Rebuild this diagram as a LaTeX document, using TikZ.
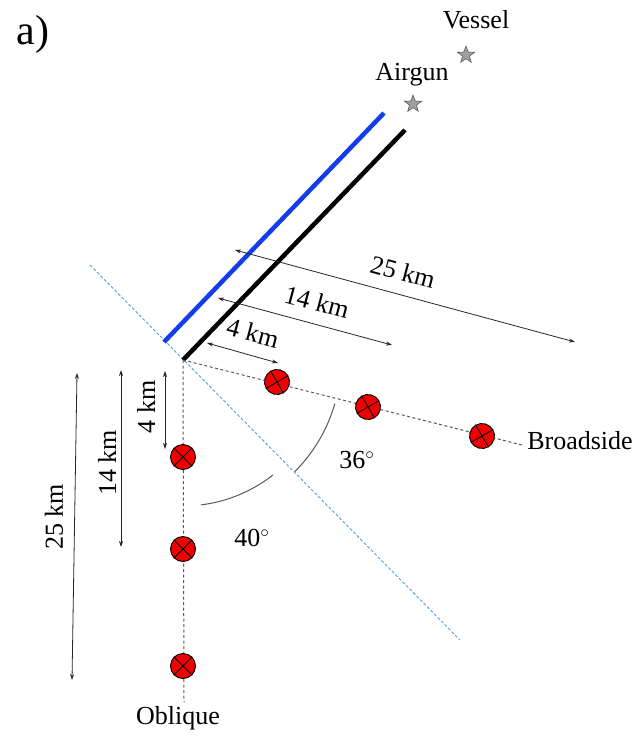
\documentclass[tikz,border=0pt]{standalone}
\usepackage{fontspec}
\setmainfont{Liberation Serif}
\usetikzlibrary{shapes.geometric,arrows.meta}
\definecolor{streamerblue}{RGB}{20,60,235}
\definecolor{lineblue}{RGB}{80,160,220}
\definecolor{recred}{RGB}{240,0,0}
\begin{document}
\begin{tikzpicture}[x=1pt,y=-1pt,
  lbl/.style={font=\fontsize{26}{30}\selectfont, inner sep=0pt},
  rcv/.style={circle, draw=black, line width=0.9pt, fill=recred, minimum size=25pt, inner sep=0pt},
  shot/.style={star, star points=5, star point ratio=2.4, minimum size=18pt, inner sep=0pt, draw=black!70, fill=gray!75, line width=0.5pt},
  dimarrow/.style={{Stealth[length=6pt,width=4pt]}-{Stealth[length=6pt,width=4pt]}, line width=0.8pt, black!85},
  profile/.style={dashed, dash pattern=on 3pt off 2.5pt, line width=1pt, black!65},
  anglearc/.style={line width=1pt, black!65}]
\useasboundingbox (0,0) rectangle (642,738);

% coordinates
\coordinate (O) at (183,360);
\coordinate (Btop) at (405,130);
\coordinate (Bl0) at (164,342);
\coordinate (Bl1) at (384,113);
\coordinate (D0) at (90,265);
\coordinate (D1) at (460,640);
\coordinate (Bend) at (522,445);
\coordinate (Oend) at (184,702);

% dashed bisector
\draw[lineblue, line width=0.9pt, dash pattern=on 3pt off 2pt] (D0) -- (D1);

% streamers
\draw[line width=4.5pt, black] (O) -- (Btop);
\draw[line width=4.5pt, streamerblue] (Bl0) -- (Bl1);

% profiles
\draw[profile] (O) -- (Bend);
\draw[profile] (O) -- (Oend);

% receivers broadside
\foreach \n/\p in {b1/{(277,382)}, b2/{(368,407)}, b3/{(482,436)}}{
  \node[rcv, rotate=-15] (\n) at \p {};
  \draw[line width=0.8pt] (\n.45) -- (\n.225) (\n.135) -- (\n.315);
}
% receivers oblique
\foreach \n/\p in {o1/{(183,457)}, o2/{(183,549)}, o3/{(183,666)}}{
  \node[rcv] (\n) at \p {};
  \draw[line width=0.8pt] (\n.45) -- (\n.225) (\n.135) -- (\n.315);
}

% angle arcs
\draw[anglearc] plot[domain=16:45, samples=40] ({183+158*cos(\x)},{360+158*sin(\x)});
\draw[anglearc] plot[domain=52:83, samples=40] ({183+146*cos(\x)},{360+146*sin(\x)});

% dimension arrows: broadside
\coordinate (h4a) at (207,343); \coordinate (h4b) at (278,363);
\coordinate (h14a) at (218,298); \coordinate (h14b) at (392,345);
\coordinate (h25a) at (235,250); \coordinate (h25b) at (575,342);
\draw[dimarrow] (h4a) -- (h4b);
\draw[dimarrow] (h14a) -- (h14b);
\draw[dimarrow] (h25a) -- (h25b);
\node[lbl, rotate=-15] (t4) at (253,333) {4 km};
\node[lbl, rotate=-15] (t14) at (317,302) {14 km};
\node[lbl, rotate=-15] (t25) at (403,272) {25 km};

% dimension arrows: oblique
\coordinate (v4a) at (165,371); \coordinate (v4b) at (165,449);
\coordinate (v14a) at (121,370); \coordinate (v14b) at (121,547);
\coordinate (v25a) at (77,373); \coordinate (v25b) at (72,680);
\draw[dimarrow] (v4a) -- (v4b);
\draw[dimarrow] (v14a) -- (v14b);
\draw[dimarrow] (v25a) -- (v25b);
\node[lbl, rotate=90] (u4) at (146,407) {4 km};
\node[lbl, rotate=90] (u14) at (107,463) {14 km};
\node[lbl, rotate=90] (u25) at (54,517) {25 km};

% angle labels
\node[lbl] (a36) at (357,460) {36$^{\circ}$};
\node[lbl] (a40) at (252,538) {40$^{\circ}$};

% profile labels
\node[lbl] (bs) at (580,441) {Broadside};
\node[lbl] (ob) at (178,718) {Oblique};

% sources
\node[shot] (vessel) at (466,55) {};
\node[shot] (airgun) at (413,104) {};
\node[lbl] (tv) at (476,20) {Vessel};
\node[lbl] (ta) at (412,75) {Airgun};

% panel label
\node[font=\fontsize{42}{48}\selectfont, inner sep=0pt] (pa) at (33,34) {a)};
\end{tikzpicture}
\end{document}
